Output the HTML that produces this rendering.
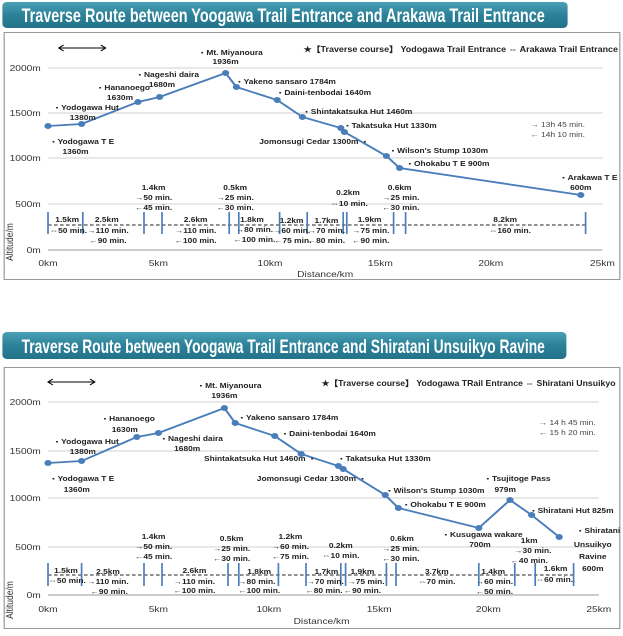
<!DOCTYPE html>
<html><head><meta charset="utf-8"><style>
html,body{margin:0;padding:0;background:#fff;}
svg{display:block;}
text{font-family:"Liberation Sans",sans-serif;font-size:7px;font-weight:bold;fill:#222;}
.c{text-anchor:middle;}
.ax{font-size:8.5px;font-weight:normal;fill:#333;}
.ttl{font-family:"Liberation Sans Narrow","Liberation Sans",sans-serif;font-size:19px;fill:#fff;font-weight:bold;}
.tm{font-weight:normal;fill:#444;}
.lg{font-size:8px;}
</style></head><body>
<svg width="623" height="636" viewBox="0 0 623 636" xmlns="http://www.w3.org/2000/svg">
<defs>
<linearGradient id="tg" x1="0" y1="0" x2="0" y2="1"><stop offset="0" stop-color="#4aa0b5"/><stop offset="0.5" stop-color="#2c8198"/><stop offset="1" stop-color="#23738a"/></linearGradient>
</defs>
<g transform="scale(1.2,1)">
<!-- ===== CHART 1 ===== -->
<rect x="2" y="2" width="471" height="26" rx="4" fill="url(#tg)"/>
<text class="ttl" x="18" y="22" textLength="436" lengthAdjust="spacingAndGlyphs">Traverse Route between Yoogawa Trail Entrance and Arakawa Trail Entrance</text>
<rect x="3.5" y="32.5" width="513" height="247" fill="#fff" stroke="#999" stroke-width="1"/>
<g stroke="#d0d0d0" stroke-width="1">
<line x1="40" y1="68" x2="502" y2="68"/><line x1="40" y1="113" x2="502" y2="113"/><line x1="40" y1="158" x2="502" y2="158"/><line x1="40" y1="204" x2="502" y2="204"/>
</g>
<line x1="40" y1="250" x2="502" y2="250" stroke="#999"/>
<text class="ax" x="34" y="71" text-anchor="end">2000m</text><text class="ax" x="34" y="116" text-anchor="end">1500m</text><text class="ax" x="34" y="161" text-anchor="end">1000m</text><text class="ax" x="34" y="207" text-anchor="end">500m</text><text class="ax" x="34" y="253" text-anchor="end">0m</text>
<text class="ax c" x="40" y="266">0km</text><text class="ax c" x="132" y="266">5km</text><text class="ax c" x="225" y="266">10km</text><text class="ax c" x="317" y="266">15km</text><text class="ax c" x="409" y="266">20km</text><text class="ax c" x="502" y="266">25km</text>
<text class="ax c" x="271" y="277">Distance/km</text>
<text class="ax c" transform="translate(11,242) rotate(-90)">Altitude/m</text>
<line x1="40" y1="225" x2="488" y2="225" stroke="#222" stroke-dasharray="3,2"/>
<g stroke="#4a7ebb" stroke-width="1.4">
<line x1="40" y1="212" x2="40" y2="234"/><line x1="69" y1="212" x2="69" y2="234"/><line x1="120" y1="212" x2="120" y2="234"/><line x1="135" y1="212" x2="135" y2="234"/><line x1="191" y1="212" x2="191" y2="234"/><line x1="199" y1="212" x2="199" y2="234"/><line x1="233" y1="212" x2="233" y2="234"/><line x1="256" y1="212" x2="256" y2="234"/><line x1="286" y1="212" x2="286" y2="234"/><line x1="289" y1="212" x2="289" y2="234"/><line x1="328" y1="212" x2="328" y2="234"/><line x1="338" y1="212" x2="338" y2="234"/><line x1="488" y1="212" x2="488" y2="234"/>
</g>
<polyline fill="none" stroke="#4a7ebb" stroke-width="1.8" points="40,126 68,124 115,102 133,97 188,73 197,87 231,100 252,117 284,128 287,132 322,156 333,168 484,195"/>
<g fill="#4a7ebb">
<circle cx="40" cy="126" r="3"/><circle cx="68" cy="124" r="3"/><circle cx="115" cy="102" r="3"/><circle cx="133" cy="97" r="3"/><circle cx="188" cy="73" r="3"/><circle cx="197" cy="87" r="3"/><circle cx="231" cy="100" r="3"/><circle cx="252" cy="117" r="3"/><circle cx="284" cy="128" r="3"/><circle cx="287" cy="132" r="3"/><circle cx="322" cy="156" r="3"/><circle cx="333" cy="168" r="3"/><circle cx="484" cy="195" r="3"/>
</g>
<text x="165" y="55">・Mt. Miyanoura</text><text class="c" x="188" y="64">1936m</text>
<text x="113" y="77">・Nageshi daira</text><text class="c" x="135" y="87">1680m</text>
<text x="80" y="90">・Hananoego</text><text class="c" x="100" y="100">1630m</text>
<text x="44" y="110">・Yodogawa Hut</text><text class="c" x="69" y="120">1380m</text>
<text x="41" y="144">・Yodogawa T E</text><text class="c" x="63" y="154">1360m</text>
<text x="196" y="84">・Yakeno sansaro  1784m</text>
<text x="230" y="95">・Daini-tenbodai  1640m</text>
<text x="252" y="114">・Shintakatsuka Hut  1460m</text>
<text x="286" y="128">・Takatsuka Hut 1330m</text>
<text x="216" y="144">Jomonsugi Cedar 1300m ・</text>
<text x="324" y="153">・Wilson's Stump 1030m</text>
<text x="338" y="166">・Ohokabu T E 900m</text>
<text x="466" y="180">・Arakawa T E</text><text class="c" x="484" y="190">600m</text>
<text class="tm" x="442" y="127">→ 13h 45 min.</text><text class="tm" x="442" y="137">← 14h 10 min.</text>
<text class="lg" x="253" y="52" textLength="262" lengthAdjust="spacingAndGlyphs">★【Traverse course】 Yodogawa Trail Entrance ⇔ Arakawa Trail Entrance</text>
<g stroke="#000" stroke-width="1" fill="none"><line x1="49" y1="48" x2="88" y2="48"/><polyline points="53,45 49,48 53,51"/><polyline points="84,45 88,48 84,51"/></g>
<text class="c" x="56" y="222">1.5km</text><text class="c" x="57" y="233">⇔50 min.</text>
<text class="c" x="89" y="222">2.5km</text><text class="c" x="90" y="233">→110 min.</text><text class="c" x="90" y="243">←90 min.</text>
<text class="c" x="128" y="190">1.4km</text><text class="c" x="128" y="200">→50 min.</text><text class="c" x="128" y="210">←45 min.</text>
<text class="c" x="163" y="222">2.6km</text><text class="c" x="163" y="233">→110 min.</text><text class="c" x="163" y="243">←100 min.</text>
<text class="c" x="196" y="190">0.5km</text><text class="c" x="196" y="200">→25 min.</text><text class="c" x="196" y="210">←30 min.</text>
<text class="c" x="210" y="222">1.8km</text><text class="c" x="212" y="232">→80 min.</text><text class="c" x="212" y="242">←100 min.</text>
<text class="c" x="243" y="223">1.2km</text><text class="c" x="243" y="233">→60 min.</text><text class="c" x="244" y="243">←75 min.</text>
<text class="c" x="272" y="223">1.7km</text><text class="c" x="272" y="233">→70 min.</text><text class="c" x="272" y="243">←80 min.</text>
<text class="c" x="290" y="195">0.2km</text><text class="c" x="291" y="206">⇔10 min.</text>
<text class="c" x="308" y="222">1.9km</text><text class="c" x="309" y="233">→75 min.</text><text class="c" x="309" y="243">←90 min.</text>
<text class="c" x="333" y="190">0.6km</text><text class="c" x="334" y="200">→25 min.</text><text class="c" x="334" y="210">←30 min.</text>
<text class="c" x="421" y="222">8.2km</text><text class="c" x="425" y="233">⇔160 min.</text>

<!-- ===== CHART 2 ===== -->
<rect x="2" y="332" width="470" height="27" rx="4" fill="url(#tg)"/>
<text class="ttl" x="18" y="353" textLength="436" lengthAdjust="spacingAndGlyphs">Traverse Route between Yoogawa Trail Entrance and Shiratani Unsuikyo Ravine</text>
<rect x="3.5" y="367.5" width="513" height="261" fill="#fff" stroke="#999" stroke-width="1"/>
<g stroke="#d0d0d0" stroke-width="1">
<line x1="40" y1="402" x2="499" y2="402"/><line x1="40" y1="451" x2="499" y2="451"/><line x1="40" y1="498" x2="499" y2="498"/><line x1="40" y1="547" x2="499" y2="547"/>
</g>
<line x1="40" y1="595" x2="499" y2="595" stroke="#999"/>
<text class="ax" x="34" y="405" text-anchor="end">2000m</text><text class="ax" x="34" y="454" text-anchor="end">1500m</text><text class="ax" x="34" y="501" text-anchor="end">1000m</text><text class="ax" x="34" y="550" text-anchor="end">500m</text><text class="ax" x="34" y="598" text-anchor="end">0m</text>
<text class="ax c" x="40" y="612">0km</text><text class="ax c" x="132" y="612">5km</text><text class="ax c" x="224" y="612">10km</text><text class="ax c" x="316" y="612">15km</text><text class="ax c" x="407" y="612">20km</text><text class="ax c" x="499" y="612">25km</text>
<text class="ax c" x="268" y="624">Distance/km</text>
<text class="ax c" transform="translate(11,600) rotate(-90)">Altitude/m</text>
<line x1="40" y1="575" x2="478" y2="575" stroke="#222" stroke-dasharray="3,2"/>
<g stroke="#4a7ebb" stroke-width="1.4">
<line x1="40" y1="563" x2="40" y2="586"/><line x1="68" y1="563" x2="68" y2="586"/><line x1="120" y1="563" x2="120" y2="586"/><line x1="135" y1="563" x2="135" y2="586"/><line x1="190" y1="563" x2="190" y2="586"/><line x1="199" y1="563" x2="199" y2="586"/><line x1="232" y1="563" x2="232" y2="586"/><line x1="255" y1="563" x2="255" y2="586"/><line x1="284" y1="563" x2="284" y2="586"/><line x1="288" y1="563" x2="288" y2="586"/><line x1="322" y1="563" x2="322" y2="586"/><line x1="330" y1="563" x2="330" y2="586"/><line x1="399" y1="563" x2="399" y2="586"/><line x1="429" y1="563" x2="429" y2="586"/><line x1="446" y1="563" x2="446" y2="586"/><line x1="478" y1="563" x2="478" y2="586"/>
</g>
<polyline fill="none" stroke="#4a7ebb" stroke-width="1.8" points="40,463 68,461 114,437 132,433 187,408 196,423 229,436 251,454 282,466 286,469 321,495 332,508 399,528 425,500 443,515 466,537"/>
<g fill="#4a7ebb">
<circle cx="40" cy="463" r="3"/><circle cx="68" cy="461" r="3"/><circle cx="114" cy="437" r="3"/><circle cx="132" cy="433" r="3"/><circle cx="187" cy="408" r="3"/><circle cx="196" cy="423" r="3"/><circle cx="229" cy="436" r="3"/><circle cx="251" cy="454" r="3"/><circle cx="282" cy="466" r="3"/><circle cx="286" cy="469" r="3"/><circle cx="321" cy="495" r="3"/><circle cx="332" cy="508" r="3"/><circle cx="399" cy="528" r="3"/><circle cx="425" cy="500" r="3"/><circle cx="443" cy="515" r="3"/><circle cx="466" cy="537" r="3"/>
</g>
<text x="164" y="388">・Mt. Miyanoura</text><text class="c" x="187" y="398">1936m</text>
<text x="84" y="421">・Hananoego</text><text class="c" x="104" y="432">1630m</text>
<text x="44" y="444">・Yodogawa Hut</text><text class="c" x="69" y="454">1380m</text>
<text x="133" y="441">・Nageshi daira</text><text class="c" x="156" y="451">1680m</text>
<text x="198" y="420">・Yakeno sansaro  1784m</text>
<text x="234" y="436">・Daini-tenbodai 1640m</text>
<text x="170" y="461">Shintakatsuka Hut  1460m ・</text>
<text x="281" y="461">・Takatsuka Hut 1330m</text>
<text x="214" y="481">Jomonsugi Cedar  1300m ・</text>
<text x="41" y="481">・Yodogawa T E</text><text class="c" x="64" y="492">1360m</text>
<text x="321" y="493">・Wilson's Stump  1030m</text>
<text x="335" y="507">・Ohokabu T E  900m</text>
<text x="403" y="481">・Tsujitoge Pass</text><text class="c" x="421" y="492">979m</text>
<text x="441" y="513">・Shiratani Hut  825m</text>
<text x="368" y="537">・Kusugawa wakare</text><text class="c" x="400" y="547">700m</text>
<text x="480" y="533">・Shiratani</text><text class="c" x="494" y="547">Unsuikyo</text><text class="c" x="494" y="559">Ravine</text><text class="c" x="494" y="571">600m</text>
<text class="tm" x="449" y="425">→ 14 h 45 min.</text><text class="tm" x="449" y="435">← 15 h 20 min.</text>
<text class="lg" x="268" y="386" textLength="245" lengthAdjust="spacingAndGlyphs">★【Traverse course】 Yodogawa TRail Entrance ⇔ Shiratani Unsuikyo</text>
<g stroke="#000" stroke-width="1" fill="none"><line x1="40" y1="382" x2="79" y2="382"/><polyline points="44,379 40,382 44,385"/><polyline points="75,379 79,382 75,385"/></g>
<text class="c" x="55" y="573">1.5km</text><text class="c" x="56" y="583">⇔50 min.</text>
<text class="c" x="90" y="574">2.5km</text><text class="c" x="90" y="584">→110 min.</text><text class="c" x="91" y="594">←90 min.</text>
<text class="c" x="128" y="539">1.4km</text><text class="c" x="128" y="549">→50 min.</text><text class="c" x="128" y="559">←45 min.</text>
<text class="c" x="162" y="573">2.6km</text><text class="c" x="162" y="584">→110 min.</text><text class="c" x="162" y="593">←100 min.</text>
<text class="c" x="193" y="541">0.5km</text><text class="c" x="193" y="551">→25 min.</text><text class="c" x="193" y="561">←30 min.</text>
<text class="c" x="216" y="574">1.8km</text><text class="c" x="214" y="584">→80 min.</text><text class="c" x="216" y="593">←100 min.</text>
<text class="c" x="242" y="539">1.2km</text><text class="c" x="242" y="549">→60 min.</text><text class="c" x="242" y="559">←75 min.</text>
<text class="c" x="272" y="574">1.7km</text><text class="c" x="271" y="584">→70 min.</text><text class="c" x="270" y="593">←80 min.</text>
<text class="c" x="284" y="548">0.2km</text><text class="c" x="284" y="558">⇔10 min.</text>
<text class="c" x="302" y="574">1.9km</text><text class="c" x="305" y="584">→75 min.</text><text class="c" x="302" y="593">←90 min.</text>
<text class="c" x="335" y="541">0.6km</text><text class="c" x="334" y="551">→25 min.</text><text class="c" x="334" y="561">←30 min.</text>
<text class="c" x="364" y="574">3.7km</text><text class="c" x="364" y="584">⇔70 min.</text>
<text class="c" x="411" y="574">1.4km</text><text class="c" x="412" y="584">→60 min.</text><text class="c" x="412" y="594">←50 min.</text>
<text class="c" x="441" y="543">1km</text><text class="c" x="444" y="553">→30 min.</text><text class="c" x="441" y="563">←40 min.</text>
<text class="c" x="463" y="571">1.6km</text><text class="c" x="462" y="582">⇔60 min.</text>
</g>
</svg>
</body></html>
